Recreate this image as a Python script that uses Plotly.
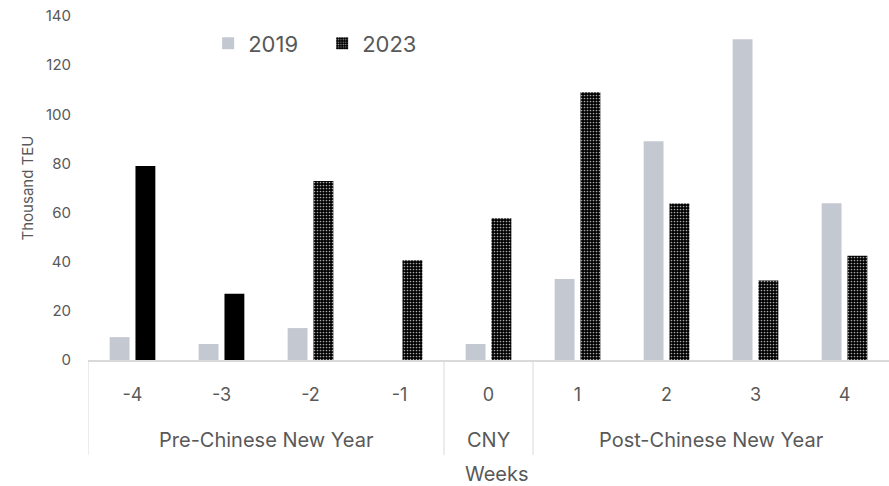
import plotly.graph_objects as go

# Weekly volumes around Chinese New Year (thousand TEU)
weeks = ["-4", "-3", "-2", "-1", "0", "1", "2", "3", "4"]
vol_2019 = [9.3, 6.5, 13, 0, 6.5, 33, 89, 130.5, 63.8]
vol_2023 = [79, 27, 72.8, 40.6, 57.7, 109, 63.7, 32.4, 42.4]
# first two 2023 weeks drawn solid, the rest dotted
pattern_2023 = ["", "", ".", ".", ".", ".", ".", ".", "."]

groups = ["Pre-Chinese New Year", "CNY", "Post-Chinese New Year"]
group_spans = [(-0.5, 3.5), (3.5, 4.5), (4.5, 8.5)]

FONT = "Inter"
TXT = "#595959"
GREY = "#C4C8D1"
DOTS = dict(bgcolor="black", fgcolor="#a8a8a8", size=3, solidity=0.25,
            fillmode="replace")

fig = go.Figure()
fig.add_bar(
    x=weeks, y=vol_2019, name="2019", offsetgroup="2019",
    marker=dict(color=GREY, line=dict(width=0)),
)
fig.add_bar(
    x=weeks, y=vol_2023, name="2023", offsetgroup="2023", showlegend=False,
    marker=dict(color="black", line=dict(width=0),
                pattern=dict(shape=pattern_2023, **DOTS)),
)
# legend swatch for 2023 shows the dotted fill
fig.add_bar(
    x=[None], y=[None], name="2023", offsetgroup="2023",
    marker=dict(color="black", line=dict(width=0),
                pattern=dict(shape=".", **DOTS)),
)

# group labels and dividers under the week ticks
for label, (a, b) in zip(groups, group_spans):
    fig.add_annotation(
        x=(a + b) / 2, xref="x", y=-0.233, yref="paper",
        text=label, showarrow=False, yanchor="middle",
        font=dict(family=FONT, size=20, color=TXT),
    )
for xv in [-0.5, 3.5, 4.5]:
    fig.add_shape(
        type="line", xref="x", yref="paper", x0=xv, x1=xv, y0=0, y1=-0.276,
        line=dict(color="#D9D9D9", width=1),
    )

fig.add_annotation(
    x=0.51, xref="paper", y=-0.331, yref="paper", text="Weeks",
    showarrow=False, yanchor="middle",
    font=dict(family=FONT, size=20, color=TXT),
)

fig.update_layout(
    width=889, height=486,
    margin=dict(l=88, r=0, t=16, b=126),
    paper_bgcolor="white", plot_bgcolor="white",
    barmode="group", bargap=0.42, bargroupgap=0.23,
    font=dict(family=FONT, color=TXT),
    showlegend=True,
    legend=dict(
        orientation="h", x=0.150, xanchor="left", y=0.92, yanchor="middle",
        font=dict(family=FONT, size=22, color=TXT),
        entrywidth=69, entrywidthmode="pixels",
        bgcolor="rgba(0,0,0,0)",
    ),
    xaxis=dict(
        type="category", range=[-0.5, 8.5],
        showline=True, linecolor="#D9D9D9", linewidth=1.5,
        showgrid=False, ticks="", ticklabelstandoff=18,
        tickfont=dict(family=FONT, size=18, color=TXT),
    ),
    yaxis=dict(
        range=[0, 140], dtick=20, showgrid=False, zeroline=False,
        showline=False, ticks="", ticklabelstandoff=16,
        tickfont=dict(family=FONT, size=15, color=TXT),
        title=dict(text="Thousand TEU", standoff=8,
                   font=dict(family=FONT, size=15, color=TXT)),
    ),
)

fig.write_html("out.html")
